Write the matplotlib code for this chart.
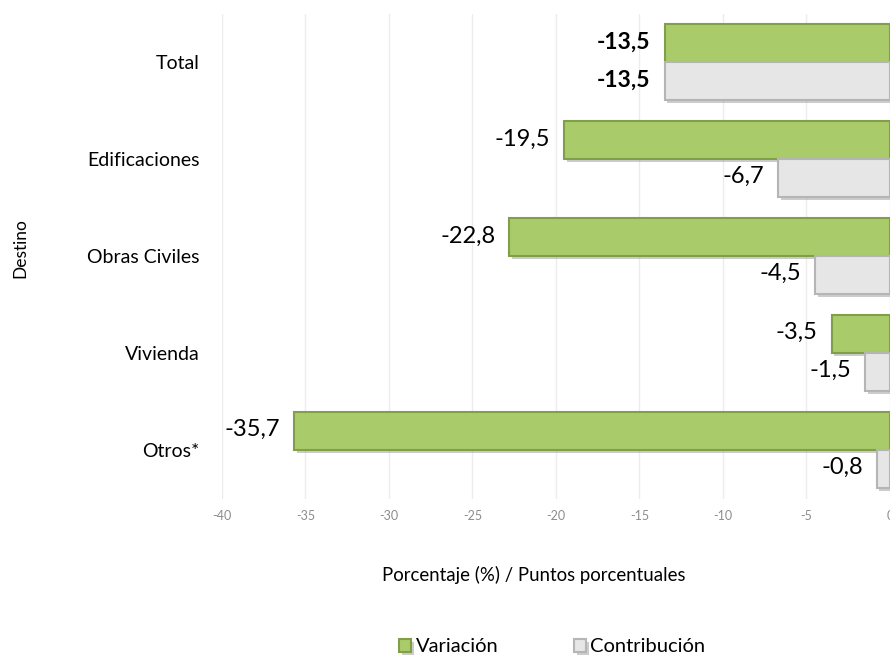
import matplotlib.pyplot as plt
import matplotlib.patheffects as pe
import numpy as np

plt.rcParams['font.family'] = ['Lato', 'DejaVu Sans']

categorias = ["Total", "Edificaciones", "Obras Civiles", "Vivienda", "Otros*"]
variacion = [-13.5, -19.5, -22.8, -3.5, -35.7]
contribucion = [-13.5, -6.7, -4.5, -1.5, -0.8]
xticks = [-40, -35, -30, -25, -20, -15, -10, -5, 0]

verde, verde_borde = "#A9CB6A", "#809F48"
gris, gris_borde = "#E6E6E6", "#B5B5B5"

fig = plt.figure(figsize=(8.9, 6.56), dpi=100)
ax = fig.add_axes([0.2494, 0.240, 0.7506, 0.739])

y = np.arange(len(categorias))
h = 0.39
sombra = [pe.SimplePatchShadow(offset=(2, -2), shadow_rgbFace="#9a9a9a", alpha=0.5), pe.Normal()]

b1 = ax.barh(y - h / 2, variacion, height=h, color=verde, edgecolor=verde_borde,
             linewidth=1.5, label="Variación", zorder=3)
b2 = ax.barh(y + h / 2, contribucion, height=h, color=gris, edgecolor=gris_borde,
             linewidth=1.5, label="Contribución", zorder=3)
for b in list(b1) + list(b2):
    b.set_path_effects(sombra)

def fmt(v):
    return f"{v:.1f}".replace(".", ",")

for i, (v, c) in enumerate(zip(variacion, contribucion)):
    bold = "bold" if i == 0 else "normal"
    fs = 16.5 if i == 0 else 17
    ax.annotate(fmt(v), (v, i - h / 2), xytext=(-10, 1), textcoords="offset points",
                ha="right", va="center", fontsize=fs, fontweight=bold, zorder=4)
    ax.annotate(fmt(c), (c, i + h / 2), xytext=(-10, 1), textcoords="offset points",
                ha="right", va="center", fontsize=fs, fontweight=bold, zorder=4)

ax.set_xlim(-40, 0)
ax.set_ylim(len(categorias) - 0.5, -0.5)
ax.set_xticks(xticks)
ax.set_xticklabels([str(t) for t in xticks], color="#8c8c8c", fontsize=9)
ax.set_yticks(y)
ax.set_yticklabels(categorias, fontsize=14)
ax.tick_params(axis="both", length=0)
ax.tick_params(axis="x", pad=8)
ax.tick_params(axis="y", pad=16)
ax.xaxis.grid(True, color="#ececec", linewidth=1)
ax.set_axisbelow(True)
for s in ax.spines.values():
    s.set_visible(False)

fig.text(534 / 890, 1 - 575 / 656, "Porcentaje (%) / Puntos porcentuales",
         ha="center", va="center", fontsize=13.4)
fig.text(20 / 890, 1 - 248 / 656, "Destino", rotation=90, ha="center", va="center", fontsize=12.5)

fig.legend(handles=[b1, b2], loc="center", bbox_to_anchor=(0.6204, 1 - 647 / 656), ncol=2,
           frameon=False, fontsize=14.5, handlelength=0.6, handleheight=0.6,
           handletextpad=0.2, columnspacing=3.75, borderpad=0)

fig.savefig("out.png", dpi=100)
